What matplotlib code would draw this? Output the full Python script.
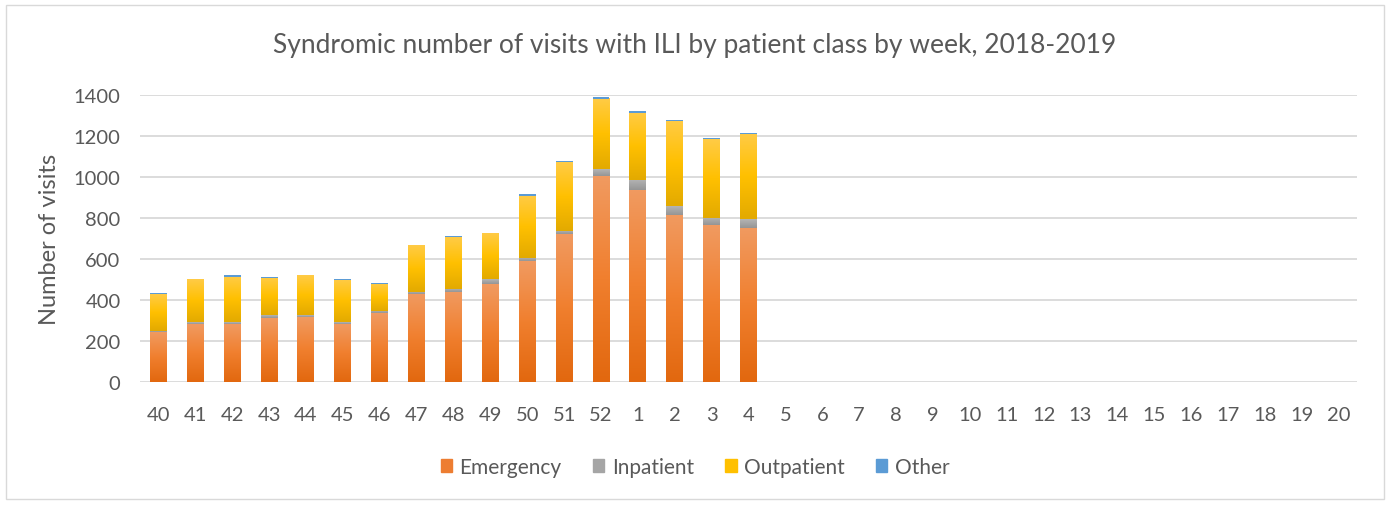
import numpy as np
import matplotlib
matplotlib.use('Agg')
import matplotlib.pyplot as plt
from matplotlib.colors import LinearSegmentedColormap
from matplotlib.patches import Rectangle

plt.rcParams['font.family'] = ['Lato', 'DejaVu Sans']

# week labels (season 2018-2019)
weeks = [str(w) for w in range(40, 53)] + [str(w) for w in range(1, 21)]

# visits by patient class (only weeks 40..4 reported)
emergency = [243, 283, 283, 311, 317, 283, 335, 431, 440, 478, 590, 721, 1006, 938, 815, 765, 752]
inpatient = [7, 8, 9, 14, 8, 9, 10, 10, 16, 23, 16, 18, 32, 49, 42, 36, 42]
outpatient = [178, 205, 223, 183, 195, 205, 134, 225, 253, 220, 304, 335, 345, 328, 415, 383, 416]
other = [5, 0, 6, 6, 0, 6, 6, 0, 6, 2, 6, 6, 6, 6, 6, 6, 6]

TEXT = '#595959'
GRID = '#d9d9d9'
C_EMERG = '#ed7d31'
C_INPAT = '#a5a5a5'
C_OUTPAT = '#ffc000'
C_OTHER = '#5b9bd5'

fig = plt.figure(figsize=(13.9, 5.06), dpi=100)
fig.patches.append(Rectangle((0.004, 0.012), 0.992, 0.976, transform=fig.transFigure,
                             facecolor='none', edgecolor='#d9d9d9', linewidth=1.0))
ax = fig.add_axes([0.1007, 0.243, 0.8756, 0.567])

x = np.arange(len(emergency))
w = 0.46
e = np.array(emergency)
i_ = np.array(inpatient)
o = np.array(outpatient)
ot = np.array(other)

b1 = ax.bar(x, e, w, color=C_EMERG, label='Emergency', zorder=3)
b2 = ax.bar(x, i_, w, bottom=e, color=C_INPAT, label='Inpatient', zorder=3)
b3 = ax.bar(x, o, w, bottom=e + i_, color=C_OUTPAT, label='Outpatient', zorder=3)
b4 = ax.bar(x, ot, w, bottom=e + i_ + o, color=C_OTHER, label='Other', zorder=4)

# Excel-like vertical gradient fills
grads = {
    id(b1): LinearSegmentedColormap.from_list('em', ['#e2680f', '#f07f2e', '#f19a60']),
    id(b3): LinearSegmentedColormap.from_list('op', ['#e3aa00', '#ffc000', '#ffcb45']),
    id(b2): LinearSegmentedColormap.from_list('ip', ['#959595', '#a5a5a5', '#b4b4b4']),
}
grad = np.linspace(0, 1, 64).reshape(-1, 1)
for cont in (b1, b2, b3):
    for r in cont.patches:
        x0, y0 = r.get_x(), r.get_y()
        ax.imshow(grad, extent=[x0, x0 + r.get_width(), y0, y0 + r.get_height()],
                  origin='lower', aspect='auto', cmap=grads[id(cont)], zorder=3.5,
                  interpolation='bilinear')

ax.set_xlim(-0.5, len(weeks) - 0.5)
ax.set_ylim(0, 1400)
ax.set_yticks(range(0, 1401, 200))
ax.set_xticks(np.arange(len(weeks)))
ax.set_xticklabels(weeks)
ax.yaxis.grid(True, color=GRID, linewidth=1.3, zorder=0)
ax.set_axisbelow(True)
for s in ax.spines.values():
    s.set_visible(False)
ax.tick_params(length=0, labelsize=14.5, colors=TEXT)
ax.tick_params(axis='x', pad=17)
ax.tick_params(axis='y', pad=14)

ax.set_ylabel('Number of visits', fontsize=17, color=TEXT, labelpad=10)
fig.text(0.5, 0.911, 'Syndromic number of visits with ILI by patient class by week, 2018-2019',
         ha='center', va='center', fontsize=19, color=TEXT)

handles = [Rectangle((0, 0), 1, 1, color=c) for c in (C_EMERG, C_INPAT, C_OUTPAT, C_OTHER)]
fig.legend(handles, ['Emergency', 'Inpatient', 'Outpatient', 'Other'],
           loc='center', bbox_to_anchor=(0.5, 0.075), ncol=4, frameon=False,
           fontsize=15, labelcolor=TEXT, handlelength=0.55, handleheight=0.55,
           handletextpad=0.35, columnspacing=1.5)

fig.savefig('out.png', dpi=100, facecolor='white')
